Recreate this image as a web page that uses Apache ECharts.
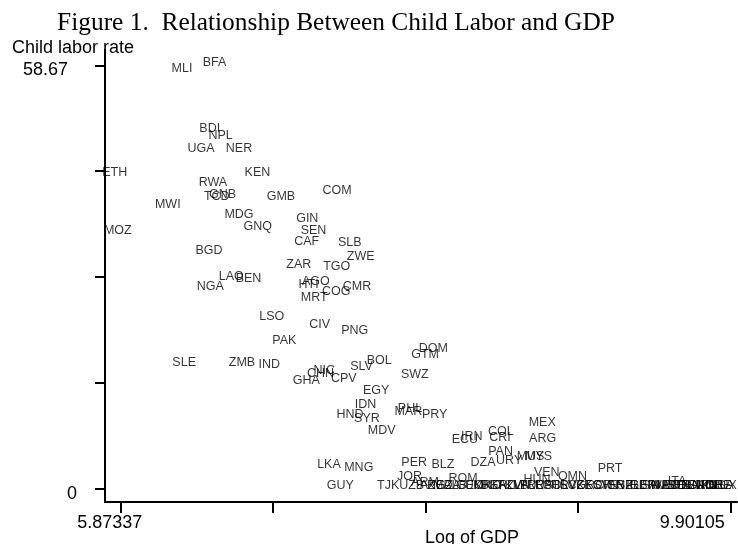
<!DOCTYPE html>
<html>
<head>
<meta charset="utf-8">
<script src="https://cdn.jsdelivr.net/npm/echarts@6/dist/echarts.min.js"></script>
<style>
  html, body { margin: 0; padding: 0; background: #ffffff; }
  #chart { width: 738px; height: 544px; }
</style>
</head>
<body>
<div id="chart"></div>
<script>
// Country codes, log of GDP per capita and child labor rate (%)
const countryCodes = [
  'MLI','BFA','BDI','NPL','UGA','NER','ETH','KEN','RWA','TCD','GNB','GMB','COM','MWI','MDG','GNQ',
  'GIN','SEN','MOZ','CAF','SLB','BGD','ZWE','ZAR','TGO','LAO','BEN','NGA','HTI','AGO','CMR','COG',
  'MRT','LSO','CIV','PNG','PAK','SLE','ZMB','IND','GHA','CHN','NIC','CPV','SLV','BOL','GTM','DOM',
  'SWZ','EGY','IDN','HND','SYR','MDV','PHL','MAR','PRY','ECU','IRN','COL','CRI','MEX','ARG','PAN',
  'MUS','MYS','DZA','URY','BLZ','PER','LKA','MNG','JOR','GUY','TJK','UZB','VEN','OMN','PRT','HUN',
  'ROM','ITA','ARM','AZE','KGZ','MDA','ALB','GEO','UKR','MKD','BGR','KAZ','TKM','LVA','LTU','BLR',
  'RUS','EST','POL','HRV','SVK','CZE','GRC','KOR','SVN','ISR','ESP','NZL','IRL','GBR','FIN','SWE',
  'AUS','NLD','AUT','BEL','FRA','DEU','DNK','CAN','JPN','NOR','ISL','CHE','USA','LUX'
];

const logGdp = [
  6.318, 6.532, 6.501, 6.573, 6.443, 6.694, 5.87337, 6.816, 6.522, 6.547, 6.585, 6.971, 7.341, 6.224, 6.694, 6.818,
  7.145, 7.186, 5.894, 7.141, 7.425, 6.496, 7.498, 7.089, 7.339, 6.643, 6.757, 6.504, 7.154, 7.201, 7.473, 7.336,
  7.191, 6.910, 7.227, 7.458, 6.993, 6.332, 6.714, 6.894, 7.139, 7.232, 7.257, 7.386, 7.503, 7.620, 7.923, 7.977,
  7.855, 7.600, 7.529, 7.427, 7.539, 7.636, 7.823, 7.812, 7.986, 8.186, 8.231, 8.423, 8.417, 8.696, 8.699, 8.421,
  8.619, 8.672, 8.305, 8.478, 8.040, 7.851, 7.288, 7.485, 7.820, 7.363, 7.679, 7.834, 8.726, 8.896, 9.144, 8.662,
  8.173, 9.586, 7.922, 7.968, 8.021, 8.067, 8.120, 8.219, 8.272, 8.332, 8.378, 8.431, 8.483, 8.536, 8.583, 8.629,
  8.681, 8.728, 8.787, 8.840, 8.893, 8.946, 9.012, 9.064, 9.117, 9.170, 9.216, 9.263, 9.315, 9.362, 9.408, 9.447,
  9.487, 9.527, 9.566, 9.606, 9.646, 9.679, 9.712, 9.745, 9.778, 9.804, 9.831, 9.857, 9.877, 9.90105
];

const childLaborRate = [
  57.74, 58.67, 49.43, 48.46, 46.73, 46.73, 43.33, 43.33, 41.97, 40.05, 40.32, 40.05, 40.84, 38.99, 37.61, 35.94,
  37.00, 35.34, 35.39, 33.77, 33.73, 32.62, 31.72, 30.69, 30.35, 28.96, 28.74, 27.58, 27.91, 28.23, 27.63, 26.84,
  26.01, 23.47, 22.31, 21.53, 20.15, 17.07, 17.07, 16.77, 14.55, 15.58, 16.00, 14.88, 16.49, 17.35, 18.11, 18.98,
  15.38, 13.15, 11.22, 9.84, 9.24, 7.68, 10.67, 10.31, 9.84, 6.43, 6.79, 7.48, 6.71, 8.80, 6.57, 4.71,
  3.98, 4.02, 3.21, 3.42, 2.87, 3.24, 2.87, 2.45, 1.25, 0, 0, 0, 1.80, 1.30, 2.41, 0.79,
  0.96, 0.58, 0.50, 0, 0, 0, 0, 0, 0, 0, 0, 0, 0, 0, 0, 0,
  0, 0, 0, 0, 0, 0, 0, 0, 0, 0, 0, 0, 0, 0, 0, 0,
  0, 0, 0, 0, 0, 0, 0, 0, 0, 0, 0, 0, 0, 0
];

// Axis ticks: only the extremes carry a label
const xTickValues = [5.87337, 6.88029, 7.88721, 8.89413, 9.90105];
const xTickLabels = ['5.87337', '9.90105'];
const yTickValues = [0, 14.6675, 29.335, 44.0025, 58.67];
const yTickLabels = ['0', '58.67'];

const titleText = 'Figure 1.  Relationship Between Child Labor and GDP';
const yAxisTitle = 'Child labor rate';
const xAxisTitle = 'Log of GDP';

const points = countryCodes.map((code, i) => ({ name: code, value: [logGdp[i], childLaborRate[i]] }));

const sans = '"Liberation Sans", Arial, Helvetica, sans-serif';
const serif = '"Liberation Serif", "Times New Roman", serif';
const black = '#000000';

const chart = echarts.init(document.getElementById('chart'), null, { renderer: 'canvas' });

chart.setOption({
  backgroundColor: '#ffffff',
  animation: false,
  grid: { left: 105, top: 50, width: 632, height: 452, containLabel: false },
  xAxis: {
    type: 'value',
    min: 5.76971,
    max: 9.94265,
    splitLine: { show: false },
    axisLine: { show: true, onZero: false, lineStyle: { color: black, width: 2 } },
    axisTick: {
      show: true, inside: false, length: 11,
      customValues: xTickValues,
      lineStyle: { color: black, width: 2 }
    },
    axisLabel: {
      show: true,
      customValues: [xTickValues[0], xTickValues[4]],
      margin: 12,
      color: black,
      fontFamily: sans,
      fontSize: 18,
      formatter: function (v) {
        return Math.abs(v - xTickValues[0]) < 1e-6 ? '{lo|' + xTickLabels[0] + '}' : '{hi|' + xTickLabels[1] + '}';
      },
      rich: {
        lo: { fontFamily: sans, fontSize: 18, color: black, padding: [0, 22, 0, 0] },
        hi: { fontFamily: sans, fontSize: 18, color: black, padding: [0, 77, 0, 0] }
      }
    }
  },
  yAxis: {
    type: 'value',
    min: -1.843,
    max: 60.79,
    splitLine: { show: false },
    axisLine: { show: true, onZero: false, lineStyle: { color: black, width: 2 } },
    axisTick: {
      show: true, inside: false, length: 10,
      customValues: yTickValues,
      lineStyle: { color: black, width: 2 }
    },
    axisLabel: {
      show: true,
      customValues: [yTickValues[0], yTickValues[4]],
      margin: 28,
      color: black,
      fontFamily: sans,
      fontSize: 18,
      padding: [10, 0, 0, 0],
      formatter: function (v) {
        return Math.abs(v) < 1e-6 ? '{lo|' + yTickLabels[0] + '}' : '{hi|' + yTickLabels[1] + '}';
      },
      rich: {
        lo: { fontFamily: sans, fontSize: 18, color: black },
        hi: { fontFamily: sans, fontSize: 18, color: black, padding: [0, 9, 0, 0] }
      }
    }
  },
  series: [{
    type: 'scatter',
    data: points,
    symbol: 'circle',
    symbolSize: 1,
    itemStyle: { color: 'rgba(0,0,0,0)' },
    silent: true,
    emphasis: { disabled: true },
    label: {
      show: true,
      position: 'inside',
      // text sits slightly left of and above each point
      padding: [0, 12, 0, 0],
      offset: [0, -3],
      formatter: '{b}',
      color: black,
      fontFamily: sans,
      fontSize: 12.5
    }
  }],
  graphic: [
    {
      type: 'text', x: 336, y: 23,
      style: { text: titleText, fill: black, font: '25.4px ' + serif, textAlign: 'center', textVerticalAlign: 'middle' }
    },
    {
      type: 'text', x: 12, y: 48,
      style: { text: yAxisTitle, fill: black, font: '18px ' + sans, textAlign: 'left', textVerticalAlign: 'middle' }
    },
    {
      type: 'text', x: 472, y: 538,
      style: { text: xAxisTitle, fill: black, font: '18px ' + sans, textAlign: 'center', textVerticalAlign: 'middle' }
    }
  ]
});
</script>
</body>
</html>
